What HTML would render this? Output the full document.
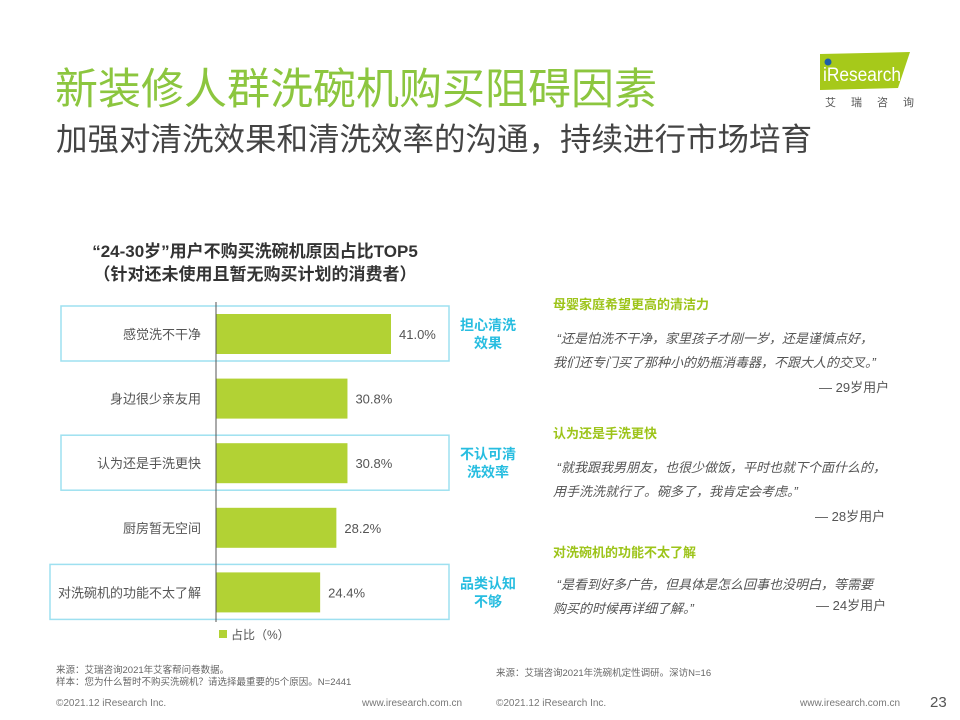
<!DOCTYPE html>
<html><head><meta charset="utf-8"><style>
body{margin:0;width:960px;height:720px;background:#fff;position:relative;overflow:hidden;font-family:"Liberation Sans","Noto Sans CJK SC",sans-serif;}
.a{position:absolute;white-space:nowrap;}
</style></head><body>
<div class="a" style="left:55px;top:55px;font-size:43px;color:#8cc63f;">新装修人群洗碗机购买阻碍因素</div>
<div class="a" style="left:56px;top:114px;font-size:31.5px;color:#444;">加强对清洗效果和清洗效率的沟通，持续进行市场培育</div>
<svg class="a" style="left:790px;top:48px" width="130" height="62">
<polygon points="30,6 120,4 108,40 30,42" fill="#a6c91a"/>
<circle cx="38" cy="14" r="3.5" fill="#1e5fa8"/>
<text x="33" y="33" font-size="19" fill="#fff" font-family="Liberation Sans" textLength="78" lengthAdjust="spacingAndGlyphs">iResearch</text>
<text x="35" y="58" font-size="11" fill="#555" letter-spacing="15" font-family="Noto Sans CJK SC">艾瑞咨询</text>
</svg>
<div class="a" style="left:50px;top:240px;width:410px;text-align:center;font-size:17px;font-weight:bold;color:#333;line-height:23px;">“24-30岁”用户不购买洗碗机原因占比TOP5<br>（针对还未使用且暂无购买计划的消费者）</div>
<svg class="a" id="chart" style="left:0;top:0" width="540" height="660"></svg>
<div class="a" style="left:553px;top:294px;font-size:13px;">
<div style="color:#9dc41a;font-weight:bold;">母婴家庭希望更高的清洁力</div>
<div style="color:#555;font-style:italic;margin-top:14px;line-height:24px;">&nbsp;“还是怕洗不干净，家里孩子才刚一岁，还是谨慎点好，<br>我们还专门买了那种小的奶瓶消毒器，不跟大人的交叉。”</div>
<div style="color:#555;margin-left:266px;margin-top:2px;">— 29岁用户</div></div>
<div class="a" style="left:553px;top:423px;font-size:13px;">
<div style="color:#9dc41a;font-weight:bold;">认为还是手洗更快</div>
<div style="color:#555;font-style:italic;margin-top:14px;line-height:24px;">&nbsp;“就我跟我男朋友，也很少做饭，平时也就下个面什么的，<br>用手洗洗就行了。碗多了，我肯定会考虑。”</div>
<div style="color:#555;margin-left:262px;margin-top:2px;">— 28岁用户</div></div>
<div class="a" style="left:553px;top:542px;font-size:13px;">
<div style="color:#9dc41a;font-weight:bold;">对洗碗机的功能不太了解</div>
<div style="color:#555;font-style:italic;margin-top:12px;line-height:24px;">&nbsp;“是看到好多广告，但具体是怎么回事也没明白，等需要<br>购买的时候再详细了解。”</div></div>
<div class="a" style="left:816px;top:595px;font-size:13px;color:#555;">— 24岁用户</div>
<div class="a" style="left:56px;top:665px;font-size:9.5px;color:#666;line-height:12px;">来源：艾瑞咨询2021年艾客帮问卷数据。<br>样本：您为什么暂时不购买洗碗机？请选择最重要的5个原因。N=2441</div>
<div class="a" style="left:496px;top:665px;font-size:9.5px;color:#666;">来源：艾瑞咨询2021年洗碗机定性调研。深访N=16</div>
<div class="a" style="left:56px;top:698px;font-size:10px;color:#777;">©2021.12 iResearch Inc.</div>
<div class="a" style="left:362px;top:698px;font-size:10px;color:#777;">www.iresearch.com.cn</div>
<div class="a" style="left:496px;top:698px;font-size:10px;color:#777;">©2021.12 iResearch Inc.</div>
<div class="a" style="left:800px;top:698px;font-size:10px;color:#777;">www.iresearch.com.cn</div>
<div class="a" style="left:930px;top:694px;font-size:15px;color:#555;">23</div>
<script>
const categories=["感觉洗不干净","身边很少亲友用","认为还是手洗更快","厨房暂无空间","对洗碗机的功能不太了解"];
const values=[41.0,30.8,30.8,28.2,24.4];
const valueLabels=["41.0%","30.8%","30.8%","28.2%","24.4%"];
const highlightIdx=[0,2,4];
const highlightText=[["担心清洗","效果"],["不认可清","洗效率"],["品类认知","不够"]];
const svg=document.getElementById('chart');const NS='http://www.w3.org/2000/svg';
const x0=216,pxPer=175/41,top0=302,step=64.6,barH=40;
function xs(v){return x0+v*pxPer;}
function yc(i){return top0+step*i+32;}
function mk(t,a,txt){const e=document.createElementNS(NS,t);for(const k in a)e.setAttribute(k,a[k]);if(txt!==undefined)e.textContent=txt;svg.appendChild(e);return e;}
highlightIdx.forEach((ci,j)=>{const l=ci==4?50:61;
const r=mk('rect',{x:l,y:yc(ci)-28,width:449-l,height:55,fill:'none',stroke:'#9ee0f0','stroke-width':1.5});

highlightText[j].forEach((s,k)=>{const t=mk('text',{x:488,y:yc(ci)-4+k*18,'text-anchor':'middle','font-size':14,'font-weight':'bold',fill:'#27bde0'},s);
});});
categories.forEach((c,i)=>{
const b=mk('rect',{x:x0,y:yc(i)-barH/2,width:xs(values[i])-x0,height:barH,fill:'#b2d234'});

const t=mk('text',{x:201,y:yc(i)+5,'text-anchor':'end','font-size':13,fill:'#555'},c);

const v=mk('text',{x:xs(values[i])+8,y:yc(i)+5,'font-size':13,fill:'#555'},valueLabels[i]);
});
const ax=mk('line',{x1:x0,y1:302,x2:x0,y2:622,stroke:'#555','stroke-width':1});

const lg=mk('rect',{x:219,y:630,width:8,height:8,fill:'#b2d234'});

const lt=mk('text',{x:231,y:639,'font-size':12,fill:'#555'},'占比（%）');

</script>
</body></html>
